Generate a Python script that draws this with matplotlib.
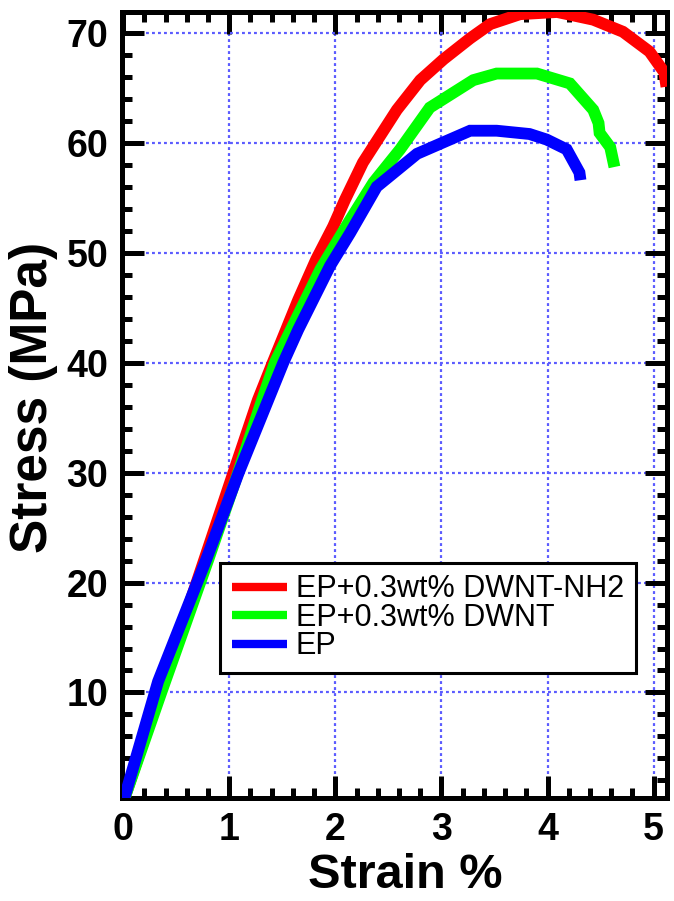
import matplotlib
matplotlib.use("Agg")
import matplotlib.pyplot as plt
from matplotlib.ticker import MultipleLocator

plt.rcParams['font.family'] = ['Liberation Sans', 'DejaVu Sans']

# Tensile stress-strain curves
strain_nh2 = [0, 1.04, 1.27, 1.41, 1.65, 1.82, 1.98, 2.09, 2.26, 2.58, 2.80, 3.02,
              3.27, 3.46, 3.74, 4.09, 4.43, 4.71, 4.96, 5.10, 5.12]
stress_nh2 = [0, 30.0, 36.6, 40.0, 45.7, 49.4, 52.4, 54.8, 58.2, 63.0, 65.7, 67.6,
              69.5, 70.8, 71.7, 71.9, 71.2, 70.1, 68.3, 66.4, 65.1]

strain_dwnt = [0, 0.36, 0.80, 1.05, 1.31, 1.43, 1.86, 2.14, 2.36, 2.61, 2.89, 3.30, 3.52,
               3.90, 4.21, 4.43, 4.48, 4.49, 4.59, 4.63]
stress_dwnt = [0, 10.0, 22.0, 29.0, 36.6, 40.0, 48.5, 53.0, 56.4, 59.4, 63.2, 65.7, 66.3,
               66.3, 65.4, 63.0, 61.8, 60.9, 59.6, 57.8]

strain_ep = [0, 0.33, 0.78, 1.09, 1.51, 1.65, 1.95, 2.14, 2.39, 2.77, 3.27, 3.52, 3.83,
             3.99, 4.18, 4.30, 4.31]
stress_ep = [0, 11.0, 22.0, 30.0, 40.0, 43.0, 48.8, 51.8, 56.0, 59.0, 61.1, 61.1, 60.8,
             60.3, 59.4, 57.3, 56.6]

labels = ["EP+0.3wt% DWNT-NH2", "EP+0.3wt% DWNT", "EP"]
colors = ["#ff0000", "#00ff00", "#0000ff"]

x_ticks = [0, 1, 2, 3, 4, 5]
y_ticks = [10, 20, 30, 40, 50, 60, 70]

fig = plt.figure(figsize=(6.74, 9.01), dpi=100)
ax = fig.add_axes([0.181, 0.1143, 0.8086, 0.8724])

series = [(strain_nh2, stress_nh2), (strain_dwnt, stress_dwnt), (strain_ep, stress_ep)]
for (xs, ys), c, lab in zip(series, colors, labels):
    ax.plot(xs, ys, color=c, lw=8.5, label=lab,
            solid_capstyle='butt', solid_joinstyle='miter', zorder=3)

ax.set_xlim(-0.01, 5.125)
ax.set_ylim(0.4, 71.9)
ax.set_xticks(x_ticks)
ax.set_yticks(y_ticks)
ax.xaxis.set_minor_locator(MultipleLocator(0.2))
ax.yaxis.set_minor_locator(MultipleLocator(2))

ax.grid(True, which='major', color='#5c5cff', lw=1.6, linestyle=(0, (1.3, 1.4)), zorder=1)
ax.set_axisbelow(True)

for s in ax.spines.values():
    s.set_linewidth(3.6)

ax.tick_params(which='both', direction='in', top=True, right=True, width=3.6,
               labelsize=27, pad=10)
ax.tick_params(which='major', length=16)
ax.tick_params(which='minor', length=7.5)
for lab in ax.get_xticklabels() + ax.get_yticklabels():
    lab.set_fontweight('bold')

ax.set_xlabel("Strain %", fontsize=35, fontweight='bold', labelpad=4, x=0.52)
ax.set_ylabel("Stress (MPa)", fontsize=37, fontweight='bold', labelpad=6, y=0.51)

leg = ax.legend(loc='lower left', bbox_to_anchor=(0.18, 0.159), fontsize=22,
                frameon=True, fancybox=False, edgecolor='black', framealpha=1,
                handlelength=1.8, handletextpad=0.3, labelspacing=-0.05,
                borderpad=0.38, borderaxespad=0)
leg.get_frame().set_linewidth(2.2)
for h in leg.get_lines():
    h.set_linewidth(6)

fig.savefig("out.png", dpi=100)
